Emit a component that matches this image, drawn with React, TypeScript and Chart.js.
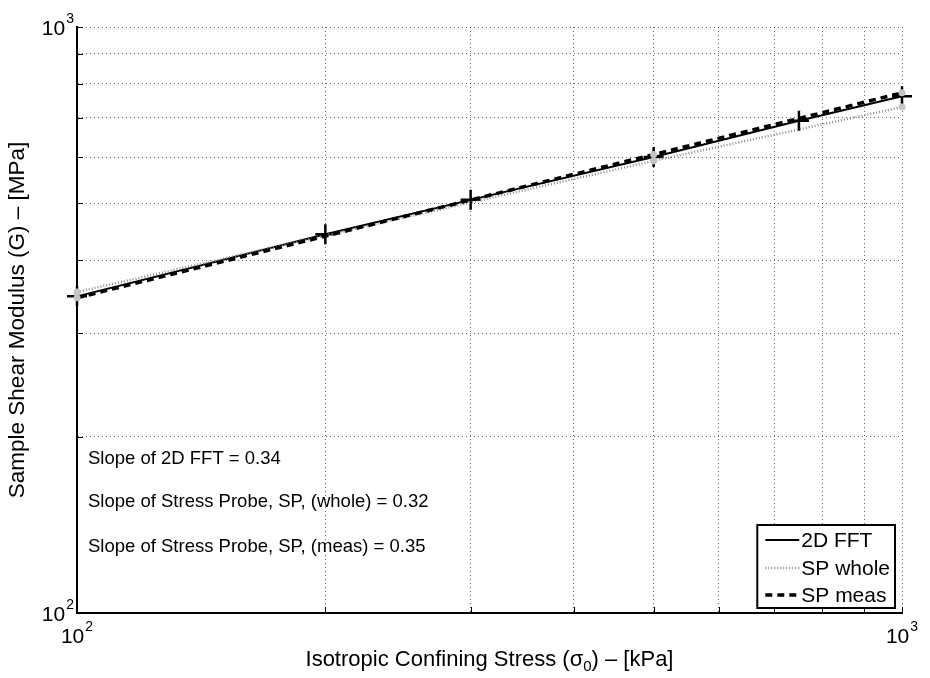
import React, { useEffect, useRef } from 'react';
import { Chart, registerables } from 'chart.js';

Chart.register(...registerables);

// ---- data ----
const stress = [100, 200, 300, 500, 750, 1000];
const fftModulus = [347, 443, 507, 600, 692, 762];
const spStress = [100, 500, 1000];
const spWholeModulus = [353, 591, 730];
const spMeasModulus = [345, 606, 772];

const gridValues = [100, 200, 300, 400, 500, 600, 700, 800, 900, 1000];
const decadeTicks = [100, 1000];
const decadeBase = '10';
const decadeExponents = ['2', '3'];

const seriesNames = ['2D FFT', 'SP whole', 'SP meas'];
const slopeNotes = [
  'Slope of 2D FFT = 0.34',
  'Slope of Stress Probe, SP, (whole) = 0.32',
  'Slope of Stress Probe, SP, (meas) = 0.35',
];
const xTitleParts = ['Isotropic Confining Stress (σ', '0', ') – [kPa]'];
const yTitle = 'Sample Shear Modulus (G) – [MPa]';

const FONT = '"Liberation Sans", Arial, Helvetica, sans-serif';

const seriesStyles = [
  { color: '#000000', width: 2, dash: [] as number[] },
  { color: '#8a8a8a', width: 2.5, dash: [1, 2] },
  { color: '#000000', width: 3.5, dash: [7, 5] },
];

function drawPow(ctx: CanvasRenderingContext2D, base: string, exp: string, x: number, y: number, align: 'right' | 'center') {
  ctx.font = `21px ${FONT}`;
  const bw = ctx.measureText(base).width;
  ctx.font = `14px ${FONT}`;
  const ew = ctx.measureText(exp).width;
  const total = bw + 1 + ew;
  const left = align === 'right' ? x - total : x - total / 2;
  ctx.textAlign = 'left';
  ctx.textBaseline = 'middle';
  ctx.fillStyle = '#000';
  ctx.font = `21px ${FONT}`;
  ctx.fillText(base, left, y);
  ctx.font = `14px ${FONT}`;
  ctx.fillText(exp, left + bw + 1, y - 9.5);
}

const overlayPlugin = {
  id: 'overlay',
  beforeDatasetsDraw(chart: any) {
    const ctx: CanvasRenderingContext2D = chart.ctx;
    const a = chart.chartArea;
    const xs = chart.scales.x;
    const ys = chart.scales.y;
    ctx.save();
    ctx.strokeStyle = '#000';
    ctx.lineWidth = 1;
    ctx.setLineDash([]);
    ctx.beginPath();
    xs.ticks.forEach((t: any) => {
      const px = Math.round(xs.getPixelForValue(t.value)) + 0.5;
      ctx.moveTo(px, a.bottom);
      ctx.lineTo(px, a.bottom - 6);
    });
    ys.ticks.forEach((t: any) => {
      const py = Math.round(ys.getPixelForValue(t.value)) + 0.5;
      ctx.moveTo(a.left, py);
      ctx.lineTo(a.left + 6, py);
    });
    ctx.stroke();
    ctx.restore();
  },
  afterDraw(chart: any) {
    const ctx: CanvasRenderingContext2D = chart.ctx;
    const a = chart.chartArea;
    const xs = chart.scales.x;
    const ys = chart.scales.y;
    ctx.save();

    // tick labels (10^n)
    decadeTicks.forEach((v, i) => {
      const py = ys.getPixelForValue(v);
      drawPow(ctx, decadeBase, decadeExponents[i], a.left - 3, py + 2, 'right');
      const px = xs.getPixelForValue(v);
      drawPow(ctx, decadeBase, decadeExponents[i], px, a.bottom + 24, 'center');
    });

    // x title with subscript
    ctx.fillStyle = '#000';
    ctx.textBaseline = 'middle';
    ctx.textAlign = 'left';
    ctx.font = `22px ${FONT}`;
    const w0 = ctx.measureText(xTitleParts[0]).width;
    const w2 = ctx.measureText(xTitleParts[2]).width;
    ctx.font = `15px ${FONT}`;
    const w1 = ctx.measureText(xTitleParts[1]).width;
    const total = w0 + w1 + w2;
    const cx = (a.left + a.right) / 2;
    let lx = cx - total / 2;
    const ty = 660;
    ctx.font = `22px ${FONT}`;
    ctx.fillText(xTitleParts[0], lx, ty);
    lx += w0;
    ctx.font = `15px ${FONT}`;
    ctx.fillText(xTitleParts[1], lx, ty + 7);
    lx += w1;
    ctx.font = `22px ${FONT}`;
    ctx.fillText(xTitleParts[2], lx, ty);

    // y title
    ctx.save();
    ctx.translate(18, (a.top + a.bottom) / 2);
    ctx.rotate(-Math.PI / 2);
    ctx.textAlign = 'center';
    ctx.textBaseline = 'middle';
    ctx.font = `22.5px ${FONT}`;
    ctx.fillText(yTitle, 0, 0);
    ctx.restore();

    // slope notes
    ctx.font = `18.5px ${FONT}`;
    ctx.textAlign = 'left';
    ctx.textBaseline = 'middle';
    const noteY = [459, 502, 547];
    slopeNotes.forEach((s, i) => ctx.fillText(s, a.left + 11, noteY[i]));

    // legend
    ctx.font = `21px ${FONT}`;
    const maxW = Math.max(...seriesNames.map((n) => ctx.measureText(n).width));
    const sampleLen = 34;
    const boxW = 8 + sampleLen + 2 + maxW + 5;
    const boxH = 83;
    const bx = a.right - 7 - boxW;
    const by = a.bottom - 5 - boxH;
    ctx.fillStyle = '#fff';
    ctx.fillRect(bx, by, boxW, boxH);
    ctx.strokeStyle = '#000';
    ctx.lineWidth = 2;
    ctx.setLineDash([]);
    ctx.strokeRect(bx, by, boxW, boxH);
    const rowY = [by + 15, by + 43, by + 70];
    seriesNames.forEach((n, i) => {
      const st = seriesStyles[i];
      ctx.strokeStyle = st.color;
      ctx.lineWidth = st.width;
      ctx.setLineDash(st.dash);
      ctx.beginPath();
      ctx.moveTo(bx + 8, rowY[i]);
      ctx.lineTo(bx + 8 + sampleLen, rowY[i]);
      ctx.stroke();
      ctx.setLineDash([]);
      ctx.fillStyle = '#000';
      ctx.textAlign = 'left';
      ctx.textBaseline = 'middle';
      ctx.fillText(n, bx + 8 + sampleLen + 2, rowY[i] + 1);
    });

    ctx.restore();
  },
};

export default function App() {
  const ref = useRef<HTMLCanvasElement | null>(null);

  useEffect(() => {
    if (!ref.current) return;
    const gridOpts = { color: 'rgba(0,0,0,0.6)', lineWidth: 1, drawTicks: false };
    const setTicks = (s: any) => {
      s.ticks = gridValues.map((v) => ({ value: v }));
    };
    const chart = new Chart(ref.current, {
      type: 'line',
      data: {
        datasets: [
          {
            label: seriesNames[0],
            data: stress.map((x, i) => ({ x, y: fftModulus[i] })),
            borderColor: seriesStyles[0].color,
            borderWidth: seriesStyles[0].width,
            pointStyle: 'cross',
            pointRadius: 10,
            pointBorderWidth: 2.5,
            pointBorderColor: '#000',
            pointBackgroundColor: '#000',
            clip: 15,
            order: 2,
          } as any,
          {
            label: seriesNames[1],
            data: spStress.map((x, i) => ({ x, y: spWholeModulus[i] })),
            borderColor: seriesStyles[1].color,
            borderWidth: seriesStyles[1].width,
            borderDash: seriesStyles[1].dash,
            pointStyle: 'circle',
            pointRadius: 3.5,
            pointBorderWidth: 0,
            pointBackgroundColor: '#c4c4c4',
            clip: 15,
            order: 1,
          } as any,
          {
            label: seriesNames[2],
            data: spStress.map((x, i) => ({ x, y: spMeasModulus[i] })),
            borderColor: seriesStyles[2].color,
            borderWidth: seriesStyles[2].width,
            borderDash: seriesStyles[2].dash,
            pointStyle: 'circle',
            pointRadius: 3.5,
            pointBorderWidth: 0,
            pointBackgroundColor: '#c4c4c4',
            clip: 15,
            order: 0,
          } as any,
        ],
      },
      options: {
        responsive: false,
        animation: false,
        devicePixelRatio: 1,
        layout: { padding: { left: 77, right: 28, top: 27, bottom: 65 } },
        plugins: { legend: { display: false }, tooltip: { enabled: false } },
        scales: {
          x: {
            type: 'logarithmic',
            min: 100,
            max: 1000,
            ticks: { display: false },
            grid: gridOpts,
            border: { display: true, color: '#000', width: 2, dash: [1, 3] },
            afterBuildTicks: setTicks,
            afterFit: (s: any) => {
              s.height = 0;
            },
          } as any,
          y: {
            type: 'logarithmic',
            min: 100,
            max: 1000,
            ticks: { display: false },
            grid: gridOpts,
            border: { display: true, color: '#000', width: 2, dash: [1, 3] },
            afterBuildTicks: setTicks,
            afterFit: (s: any) => {
              s.width = 0;
            },
          } as any,
        },
      },
      plugins: [overlayPlugin],
    });
    return () => chart.destroy();
  }, []);

  return (
    <div style={{ position: 'absolute', left: 0, top: 0, width: 930, height: 678, background: '#fff' }}>
      <canvas ref={ref} width={930} height={678} style={{ display: 'block' }} />
    </div>
  );
}
